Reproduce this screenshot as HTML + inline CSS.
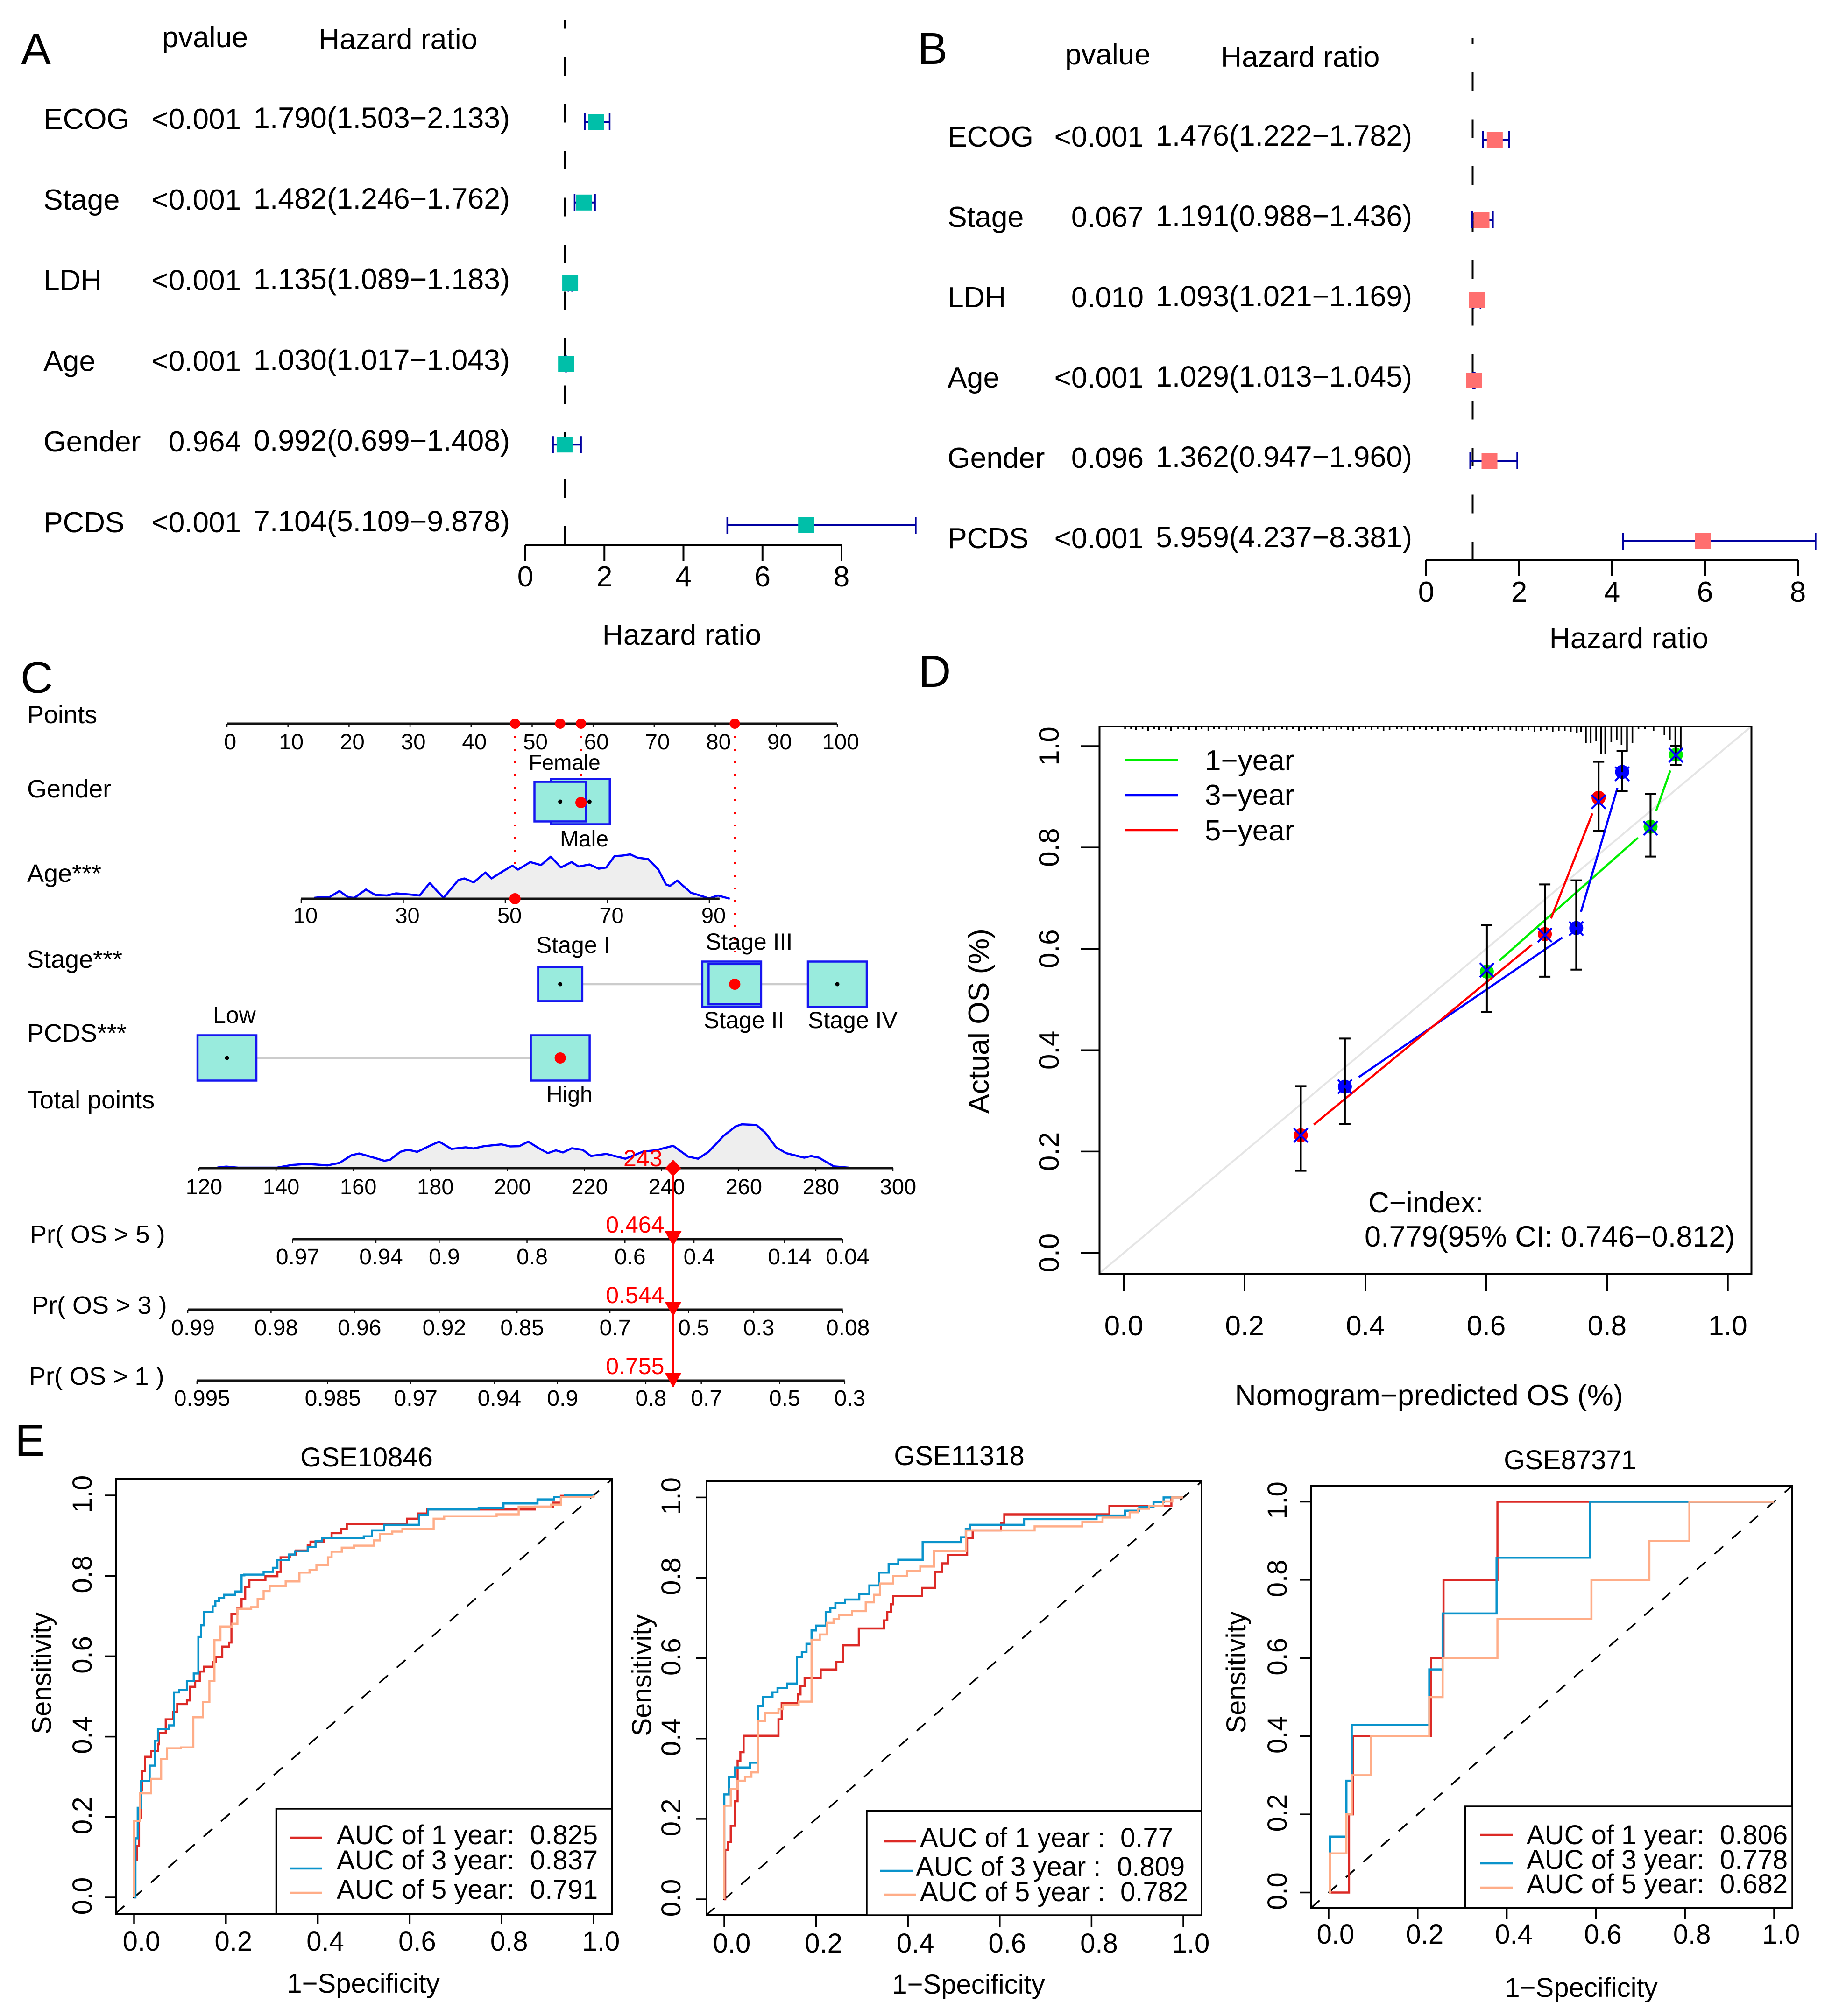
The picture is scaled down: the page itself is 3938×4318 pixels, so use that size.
<!DOCTYPE html>
<html lang="en"><head><meta charset="utf-8"><title>Prognostic model figure</title>
<style>html,body{margin:0;padding:0;background:#fff;width:3938px;height:4318px;overflow:hidden}svg{display:block}text{fill:#000}</style></head>
<body>
<svg id="fig" xmlns="http://www.w3.org/2000/svg" width="3938" height="4318" viewBox="0 0 3938 4318" font-family="'Liberation Sans',Arial,sans-serif">
<rect width="3938" height="4318" fill="#fff"/>

<g id="panelA" font-size="62">
<text x="45" y="138" font-size="96">A</text>
<text x="347" y="101" font-size="62.5">pvalue</text>
<text x="682" y="105" font-size="62.5">Hazard ratio</text>
<text x="1460" y="1381" text-anchor="middle" font-size="62.5">Hazard ratio</text>
</g>

<g id="panelB" font-size="62">
<text x="1965" y="137" font-size="96">B</text>
<text x="2281" y="138">pvalue</text>
<text x="2614" y="143" font-size="62.5">Hazard ratio</text>
<text x="3488" y="1388" text-anchor="middle" font-size="62.5">Hazard ratio</text>
</g>

<g id="panelC" font-size="54">
<text x="44" y="1484" font-size="96">C</text>
<text x="58" y="1549">Points</text>
<text x="58" y="1708">Gender</text>
<text x="58" y="1889">Age***</text>
<text x="58" y="2073">Stage***</text>
<text x="58" y="2231">PCDS***</text>
<text x="58" y="2374">Total points</text>
<text x="64" y="2662">Pr( OS &gt; 5 )</text>
<text x="68" y="2814">Pr( OS &gt; 3 )</text>
<text x="62" y="2966">Pr( OS &gt; 1 )</text>
</g>

<g id="panelD" font-size="62">
<text x="1967" y="1471" font-size="96">D</text>
<text x="3060" y="3010" text-anchor="middle" font-size="63">Nomogram−predicted OS (%)</text>
<text transform="translate(2117 2187) rotate(-90)" text-anchor="middle" font-size="62.5">Actual OS (%)</text>
<text x="2580" y="1650">1−year</text>
<text x="2580" y="1724">3−year</text>
<text x="2580" y="1800">5−year</text>
<line x1="2409" x2="2523" y1="1628" y2="1628" stroke="#00ee00" stroke-width="4.5"/>
<line x1="2409" x2="2523" y1="1703" y2="1703" stroke="#0000ff" stroke-width="4.5"/>
<line x1="2409" x2="2523" y1="1778" y2="1778" stroke="#ff0000" stroke-width="4.5"/>
<text x="2930" y="2597">C−index:</text>
<text x="2922" y="2670" font-size="63">0.779(95% CI: 0.746−0.812)</text>
</g>

<g id="panelE1" font-size="58">
<text x="32" y="3118" font-size="96">E</text>
<text x="785" y="3141" text-anchor="middle">GSE10846</text>
<text x="778" y="4268" text-anchor="middle">1−Specificity</text>
<text transform="translate(109 3584) rotate(-90)" text-anchor="middle">Sensitivity</text>
</g>
<g id="panelE2" font-size="58">
<text x="2054" y="3138" text-anchor="middle">GSE11318</text>
<text x="2074" y="4270" text-anchor="middle">1−Specificity</text>
<text transform="translate(1394 3588) rotate(-90)" text-anchor="middle">Sensitivity</text>
</g>
<g id="panelE3" font-size="58">
<text x="3362" y="3147" text-anchor="middle">GSE87371</text>
<text x="3386" y="4277" text-anchor="middle">1−Specificity</text>
<text transform="translate(2667 3582) rotate(-90)" text-anchor="middle">Sensitivity</text>
</g>

<g id="legendE1" font-size="58">
<rect x="591.5" y="3874" width="718.5" height="225.5" fill="#fff" stroke="#000" stroke-width="3.5"/>
<line x1="620" x2="689" y1="3936" y2="3936" stroke="#DC2A26" stroke-width="4.5"/>
<line x1="620" x2="689" y1="4002" y2="4002" stroke="#0A93CB" stroke-width="4.5"/>
<line x1="620" x2="689" y1="4054" y2="4054" stroke="#FFAD88" stroke-width="4.5"/>
<text x="721" y="3950">AUC of 1 year:<tspan x="1135">0.825</tspan></text>
<text x="721" y="4004">AUC of 3 year:<tspan x="1135">0.837</tspan></text>
<text x="721" y="4067">AUC of 5 year:<tspan x="1135">0.791</tspan></text>
</g>
<g id="legendE2" font-size="58">
<rect x="1856" y="3878.5" width="717" height="223.5" fill="#fff" stroke="#000" stroke-width="3.5"/>
<line x1="1893" x2="1961" y1="3944" y2="3944" stroke="#DC2A26" stroke-width="4.5"/>
<line x1="1884" x2="1955" y1="4007" y2="4007" stroke="#0A93CB" stroke-width="4.5"/>
<line x1="1893" x2="1961" y1="4058" y2="4058" stroke="#FFAD88" stroke-width="4.5"/>
<text x="1970" y="3956">AUC of 1 year :<tspan x="2399">0.77</tspan></text>
<text x="1961" y="4018">AUC of 3 year :<tspan x="2392">0.809</tspan></text>
<text x="1970" y="4072">AUC of 5 year :<tspan x="2399">0.782</tspan></text>
</g>
<g id="legendE3" font-size="58">
<rect x="3137.5" y="3869" width="700.5" height="217" fill="#fff" stroke="#000" stroke-width="3.5"/>
<line x1="3170" x2="3239" y1="3930" y2="3930" stroke="#DC2A26" stroke-width="4.5"/>
<line x1="3170" x2="3239" y1="3991" y2="3991" stroke="#0A93CB" stroke-width="4.5"/>
<line x1="3170" x2="3239" y1="4043" y2="4043" stroke="#FFAD88" stroke-width="4.5"/>
<text x="3269" y="3950">AUC of 1 year:<tspan x="3683">0.806</tspan></text>
<text x="3269" y="4003">AUC of 3 year:<tspan x="3683">0.778</tspan></text>
<text x="3269" y="4055">AUC of 5 year:<tspan x="3683">0.682</tspan></text>
</g>
</svg>

<script>
/* ---------- forest plots ---------- */
const forestVariables = ['ECOG','Stage','LDH','Age','Gender','PCDS'];
const forestTicks = [0,2,4,6,8];
const pvalA = ['<0.001','<0.001','<0.001','<0.001','0.964','<0.001'];
const hrA = [1.790,1.482,1.135,1.030,0.992,7.104];
const loA = [1.503,1.246,1.089,1.017,0.699,5.109];
const hiA = [2.133,1.762,1.183,1.043,1.408,9.878];
const pvalB = ['<0.001','0.067','0.010','<0.001','0.096','<0.001'];
const hrB = [1.476,1.191,1.093,1.029,1.362,5.959];
const loB = [1.222,0.988,1.021,1.013,0.947,4.237];
const hiB = [1.782,1.436,1.169,1.045,1.960,8.381];

/* ---------- nomogram ---------- */
const pointTicks = [0,10,20,30,40,50,60,70,80,90,100];
const selectedPoints = [47.2,54.6,58,83.2];
const ageTicks = [10,30,50,70,90];
const selectedAge = 51.9;
const ageGrid = [12.5,14,15.4,17.5,19.2,20.4,22.7,24.5,26.8,28.6,31.5,33.2,35.2,36.8,37.9,40.8,42,43.8,46.1,47.3,49.6,51.4,52.5,54.9,57,58.9,60.9,63,64.4,66.5,68.3,69.8,71.4,73,74.5,75.9,78,80,81.5,82.3,83.7,86.4,88.2,89.9,91.7,94];
const ageDensity = [3,6,4,26,5,3,31,13,11,18,14,11,53,23,3,63,68,55,88,68,93,111,98,123,113,141,105,123,108,115,101,105,143,145,149,138,133,98,48,43,61,20,11,1,11,0];
const genderPoints = [57.9,54.6];
const genderWeights = [1,0.875];
const genderDotPoints = [59.4,54.6];
const stagePoints = [54.6,82.7,83.2,100];
const stageWeights = [0.75,1,0.89,1];
const pcdsPoints = [0,54.6];
const pcdsWeights = [1,1];
const totalTicks = [120,140,160,180,200,220,240,260,280,300];
const totalGrid = [124.8,127.1,130.2,140.2,144.1,148,153.4,156.5,159.6,161.6,165,168.1,169.6,172.2,174.2,176.6,180,182.3,185.5,189.2,191.2,193.9,198.5,200.7,203.1,205.4,208.2,210.5,212.6,214.4,216.7,219.5,221.7,225.7,230.6,235.3,238.4,243,246.9,249.5,252.3,256.1,259.2,260.8,264.6,266.9,269.7,272.3,277,278.8,280.8,284.7,288.6];
const totalDensity = [1,5,0,0,13,18,11,23,60,68,50,33,38,76,86,76,106,125,90,98,92,103,112,102,103,125,93,70,83,73,93,86,56,66,43,78,83,105,53,43,78,153,198,208,205,168,98,70,48,56,48,6,0];
const totalScore = 243;
const pr5Labels = ['0.97','0.94','0.9','0.8','0.6','0.4','0.14','0.04'];
const pr5AtTotal = [144.3,165.9,182.3,205.1,230.5,248.4,271.9,286.9];
const pr5Value = '0.464';
const pr3Labels = ['0.99','0.98','0.96','0.92','0.85','0.7','0.5','0.3','0.08'];
const pr3AtTotal = [117.1,138.7,160.3,182.3,202.5,226.6,247,263.9,287];
const pr3Value = '0.544';
const pr1Labels = ['0.995','0.985','0.97','0.94','0.9','0.8','0.7','0.5','0.3'];
const pr1AtTotal = [119.5,153.4,174.9,196.6,213,235.9,250.3,270.6,287.5];
const pr1Value = '0.755';

/* ---------- calibration ---------- */
const calTicks = [0,0.2,0.4,0.6,0.8,1];
const pred1y = [0.601,0.872,0.914];
const obs1y = [0.555,0.841,0.983];
const low1y = [0.475,0.782,0.963];
const high1y = [0.647,0.906,1.0];
const pred3y = [0.366,0.749,0.825];
const obs3y = [0.328,0.641,0.949];
const low3y = [0.254,0.559,0.911];
const high3y = [0.423,0.735,0.990];
const pred5y = [0.293,0.697,0.786];
const obs5y = [0.232,0.629,0.898];
const low5y = [0.162,0.545,0.833];
const high5y = [0.329,0.727,0.969];
const corrected5y = [0.232,0.627,0.890];
const corrected3y = [0.328,0.640,0.945];
const corrected1y = [0.558,0.838,0.982];
const rugPred = [0.002,0.012,0.02,0.031,0.04,0.05,0.058,0.069,0.078,0.09,0.099,0.108,0.12,0.129,0.14,0.149,0.158,0.17,0.178,0.19,0.2,0.209,0.22,0.231,0.24,0.25,0.262,0.27,0.28,0.29,0.3,0.31,0.32,0.33,0.34,0.352,0.36,0.371,0.38,0.39,0.4,0.41,0.42,0.43,0.44,0.452,0.46,0.47,0.48,0.49,0.5,0.51,0.52,0.53,0.54,0.55,0.56,0.57,0.58,0.59,0.6,0.61,0.62,0.63,0.64,0.65,0.66,0.67,0.68,0.69,0.7,0.71,0.72,0.73,0.74,0.75,0.757,0.765,0.773,0.782,0.79,0.797,0.807,0.816,0.824,0.833,0.842,0.852,0.863,0.877,0.895,0.904,0.913,0.922];
const rugFreq = [6,5,8,6,10,5,7,6,9,5,6,8,7,5,10,6,5,8,6,7,9,5,6,10,7,6,5,8,6,9,7,6,5,10,6,8,5,7,9,6,5,8,6,10,7,5,6,9,8,5,7,6,10,8,6,7,9,6,8,10,7,6,9,8,7,10,9,8,11,10,8,12,10,9,12,14,11,36,35,31,59,58,33,30,39,53,35,6,6,9,19,30,50,60];

/* ---------- ROC curves ---------- */
const rocTicks = [0,0.2,0.4,0.6,0.8,1];
const a1Fpr = [0.002,0.006,0.011,0.015,0.018,0.024,0.037,0.052,0.054,0.069,0.085,0.094,0.115,0.122,0.133,0.143,0.152,0.172,0.178,0.192,0.207,0.212,0.225,0.234,0.242,0.251,0.286,0.312,0.319,0.339,0.352,0.378,0.384,0.413,0.430,0.451,0.463,0.594,0.619,0.638,0.872,0.912,0.929,1];
const a1Tpr = [0.094,0.128,0.199,0.266,0.314,0.350,0.364,0.381,0.409,0.443,0.462,0.481,0.490,0.524,0.538,0.562,0.574,0.586,0.598,0.624,0.634,0.705,0.719,0.743,0.772,0.789,0.799,0.810,0.846,0.853,0.863,0.877,0.885,0.894,0.906,0.917,0.929,0.942,0.955,0.965,0.972,0.982,0.999,1];
const a3Fpr = [0.003,0.008,0.015,0.034,0.045,0.052,0.076,0.087,0.098,0.115,0.130,0.140,0.146,0.152,0.171,0.177,0.185,0.196,0.220,0.234,0.240,0.282,0.302,0.312,0.337,0.350,0.378,0.395,0.409,0.500,0.518,0.544,0.620,0.640,0.750,0.804,0.878,0.914,0.938,1];
const a3Tpr = [0.147,0.223,0.290,0.328,0.390,0.419,0.428,0.510,0.516,0.538,0.557,0.648,0.677,0.710,0.724,0.737,0.745,0.753,0.761,0.801,0.803,0.810,0.820,0.839,0.853,0.861,0.872,0.886,0.894,0.898,0.913,0.927,0.951,0.965,0.969,0.980,0.990,0.996,1,1];
const a5Fpr = [0,0.013,0.037,0.059,0.072,0.102,0.129,0.129,0.150,0.164,0.175,0.188,0.214,0.225,0.255,0.269,0.282,0.295,0.330,0.360,0.382,0.397,0.422,0.430,0.452,0.479,0.522,0.535,0.562,0.584,0.652,0.675,0.789,0.837,0.907,0.929,1];
const a5Tpr = [0.190,0.259,0.295,0.344,0.371,0.373,0.385,0.448,0.486,0.538,0.640,0.674,0.681,0.718,0.722,0.743,0.762,0.775,0.786,0.808,0.815,0.827,0.846,0.860,0.870,0.875,0.888,0.904,0.910,0.917,0.942,0.948,0.953,0.972,0.977,0.996,1];

const b1Fpr = [0.002,0.008,0.014,0.023,0.029,0.035,0.042,0.118,0.125,0.160,0.166,0.175,0.210,0.244,0.259,0.293,0.348,0.355,0.363,0.368,0.431,0.459,0.474,0.487,0.529,0.541,0.603,0.610,0.839,0.974,1];
const b1Tpr = [0.123,0.142,0.183,0.244,0.345,0.366,0.407,0.448,0.489,0.510,0.531,0.551,0.572,0.591,0.632,0.674,0.694,0.715,0.734,0.755,0.775,0.815,0.836,0.857,0.899,0.918,0.937,0.958,0.979,1,1];
const b3Fpr = [0,0.010,0.023,0.056,0.073,0.084,0.105,0.116,0.137,0.158,0.169,0.179,0.190,0.200,0.221,0.231,0.242,0.263,0.294,0.316,0.337,0.358,0.379,0.432,0.516,0.526,0.535,0.653,0.811,0.873,0.904,0.935,0.957,1];
const b3Tpr = [0.261,0.304,0.328,0.340,0.481,0.504,0.515,0.526,0.537,0.603,0.615,0.636,0.669,0.681,0.715,0.725,0.737,0.746,0.759,0.781,0.813,0.835,0.845,0.889,0.901,0.922,0.932,0.946,0.955,0.967,0.977,0.989,1,1];
const b5Fpr = [0,0.014,0.029,0.045,0.059,0.073,0.089,0.118,0.128,0.162,0.190,0.208,0.223,0.238,0.250,0.278,0.308,0.326,0.339,0.368,0.398,0.427,0.457,0.527,0.676,0.780,0.824,0.883,0.901,0.925,0.956,0.976,1];
const b5Tpr = [0.233,0.274,0.295,0.305,0.316,0.443,0.464,0.473,0.484,0.492,0.646,0.659,0.688,0.698,0.708,0.717,0.739,0.758,0.786,0.805,0.817,0.828,0.867,0.918,0.928,0.939,0.950,0.963,0.972,0.979,0.990,1,1];

const c1Fpr = [0.046,0.055,0.23,0.258,0.379,1];
const c1Tpr = [0.2,0.4,0.6,0.8,1,1];
const c3Fpr = [0.003,0.04,0.052,0.226,0.256,0.377,0.587,1];
const c3Tpr = [0.143,0.286,0.429,0.571,0.714,0.857,1,1];
const c5Fpr = [0.003,0.04,0.052,0.095,0.226,0.256,0.379,0.59,0.72,0.81,1];
const c5Tpr = [0.1,0.2,0.3,0.4,0.5,0.6,0.7,0.8,0.9,1,1];

/* ---------- helpers ---------- */
const NS = 'http://www.w3.org/2000/svg';
const lin = (d0,r0,d1,r1) => v => r0 + (v-d0)*(r1-r0)/(d1-d0);
function add(parent, tag, name, attrs, text){
  const el = document.createElementNS(NS, tag);
  
  
  for (const k in attrs) el.setAttribute(k, attrs[k]);
  if (text !== undefined) el.textContent = text;
  parent.appendChild(el);
  return el;
}
const $ = id => document.getElementById(id);
function line(p,name,x1,y1,x2,y2,stroke,w,extra){
  return add(p,'line',name,Object.assign({x1,y1,x2,y2,stroke,'stroke-width':w},extra||{}));
}

/* ---------- forest ---------- */
function forest(g,suffix,pv,hr,lo,hi,c){
  const x = lin(0,c.x0,8,c.x8);
  const rowY = i => c.rowTop + i*c.rowStep;
  line(g,'reference-line-'+suffix,x(1),c.axisY,x(1),c.top,'#000',4,{'stroke-dasharray':'40 60.5'});
  line(g,'x-axis-line-'+suffix,x(0),c.axisY,x(8),c.axisY,'#000',4);
  forestTicks.forEach(t=>{
    line(g,'x-tick-'+suffix,x(t),c.axisY,x(t),c.tickEnd,'#000',4);
    add(g,'text','x-tick-label-'+suffix,{x:x(t),y:c.tickBase,'text-anchor':'middle'},String(t));
  });
  forestVariables.forEach((v,i)=>{
    const y = rowY(i);
    add(g,'text','variable-label-'+v.toLowerCase(),{x:c.nameX,y:y+15,'font-size':62.5},v);
    add(g,'text','pvalue-'+v.toLowerCase(),{x:c.pX,y:y+15,'text-anchor':'end'},pv[i]);
    add(g,'text','hazard-ratio-text-'+v.toLowerCase(),{x:c.hrX,y:y+13,'text-anchor':'end','font-size':62.7},hr[i].toFixed(3)+'('+lo[i].toFixed(3)+'−'+hi[i].toFixed(3)+')');
    line(g,'ci-line-'+v.toLowerCase(),x(lo[i]),y,x(hi[i]),y,'#0000A0',4);
    line(g,'ci-cap-low-'+v.toLowerCase(),x(lo[i]),y-18,x(lo[i]),y+18,'#0000A0',3.5);
    line(g,'ci-cap-high-'+v.toLowerCase(),x(hi[i]),y-18,x(hi[i]),y+18,'#0000A0',3.5);
    add(g,'rect','hazard-marker-'+v.toLowerCase(),{x:x(hr[i])-17,y:y-17,width:34,height:34,fill:c.color});
  });
}
forest($('panelA'),'a',pvalA,hrA,loA,hiA,{x0:1125,x8:1802,axisY:1167,tickEnd:1201,tickBase:1256,top:43,rowTop:261,rowStep:172.8,nameX:93,pX:516,hrX:1092,color:'#00BFA9'});
forest($('panelB'),'b',pvalB,hrB,loB,hiB,{x0:3054,x8:3850,axisY:1200,tickEnd:1234,tickBase:1289,top:82,rowTop:299,rowStep:172,nameX:2029,pX:2449,hrX:3024,color:'#FF6F6F'});

/* ---------- nomogram ---------- */
const gC = $('panelC');
const xPts = lin(0,486,100,1793);
const xAge = lin(10,645,90,1519);
const xTot = lin(120,426,300,1912);
const AX = '#111';
function hAxis(name,x1,x2,y,tickEnd,base,ticks,labels,xf,off,size){
  line(gC,name+'-line',x1,y,x2,y,AX,5);
  ticks.forEach((t,i)=>{
    line(gC,name+'-tick',xf(t),y,xf(t),tickEnd,AX,2.5);
    add(gC,'text',name+'-tick-label',{x:xf(t)+off,y:base,'text-anchor':'middle','font-size':size},labels[i]);
  });
}
function density(name,grid,dens,xf,base,unit){
  const pts = grid.map((g,i)=>xf(g).toFixed(1)+','+(base-dens[i]*unit).toFixed(1));
  add(gC,'polygon',name+'-area',{points:xf(grid[0]).toFixed(1)+','+base+' '+pts.join(' ')+' '+xf(grid[grid.length-1]).toFixed(1)+','+base,fill:'#EEEEEE'});
  add(gC,'polyline',name+'-curve',{points:pts.join(' '),fill:'none',stroke:'#0000FF','stroke-width':4.5,'stroke-linejoin':'round'});
}
line(gC,'guide-age',xPts(selectedPoints[0]),1550,xPts(selectedPoints[0]),1925,'#FF0000',4,{'stroke-dasharray':'4 23'});
line(gC,'guide-gender',xPts(selectedPoints[2]),1550,xPts(selectedPoints[2]),1719,'#FF0000',4,{'stroke-dasharray':'4 23'});
line(gC,'guide-stage',xPts(selectedPoints[3]),1550,xPts(selectedPoints[3]),2132,'#FF0000',4,{'stroke-dasharray':'4 23'});

hAxis('points-axis',xPts(0),xPts(100),1550,1558,1605,pointTicks,pointTicks.map(String),xPts,7,47.5);
selectedPoints.forEach(p=>add(gC,'circle','points-selected-dot',{cx:xPts(p),cy:1550,r:11,fill:'#FF0000'}));

const BOX_W = 126, BOX_H = 97;
function catBox(name,center,weight,y){
  const w = BOX_W*weight, h = BOX_H*weight;
  add(gC,'rect',name,{x:xPts(center)-w/2,y:y-h/2,width:w,height:h,fill:'#99EBDD',stroke:'#1616F0','stroke-width':4.5});
}
function dot(name,p,y,color,r){ add(gC,'circle',name,{cx:xPts(p),cy:y,r,fill:color}); }

/* gender */
catBox('gender-box-male',genderPoints[0],genderWeights[0],1717);
catBox('gender-box-female',genderPoints[1],genderWeights[1],1717);
genderDotPoints.forEach(p=>dot('gender-level-dot',p,1717,'#000',4.5));
dot('gender-selected-dot',selectedPoints[2],1719,'#FF0000',12);
add(gC,'text','gender-label-female',{x:1209,y:1649,'text-anchor':'middle','font-size':46},'Female');
add(gC,'text','gender-label-male',{x:1251,y:1813,'text-anchor':'middle','font-size':48},'Male');

/* age */
density('age-density',ageGrid,ageDensity,xAge,1925,0.638);
hAxis('age-axis',xAge(10),xAge(92),1925,1935,1977,ageTicks,ageTicks.map(String),xAge,9,47);
add(gC,'circle','age-selected-dot',{cx:xAge(selectedAge),cy:1925,r:12,fill:'#FF0000'});

/* stage */
line(gC,'stage-connector',xPts(stagePoints[0]),2108,xPts(stagePoints[3]),2108,'#CCCCCC',4.5);
stagePoints.forEach((p,i)=>catBox('stage-box',p,stageWeights[i],2108));
dot('stage-level-dot',stagePoints[0],2108,'#000',4.5);
dot('stage-level-dot',stagePoints[3],2108,'#000',4.5);
dot('stage-selected-dot',selectedPoints[3],2108,'#FF0000',12);
add(gC,'text','stage-label-i',{x:1148,y:2041,'font-size':50},'Stage I');
add(gC,'text','stage-label-iii',{x:1511,y:2034,'font-size':50},'Stage III');
add(gC,'text','stage-label-ii',{x:1507,y:2202,'font-size':50},'Stage II');
add(gC,'text','stage-label-iv',{x:1730,y:2202,'font-size':50},'Stage IV');

/* pcds */
line(gC,'pcds-connector',xPts(pcdsPoints[0]),2266,xPts(pcdsPoints[1]),2266,'#CCCCCC',4.5);
pcdsPoints.forEach((p,i)=>catBox('pcds-box',p,pcdsWeights[i],2266));
dot('pcds-level-dot',pcdsPoints[0],2266,'#000',4.5);
dot('pcds-selected-dot',selectedPoints[1],2266,'#FF0000',12);
add(gC,'text','pcds-label-low',{x:456,y:2191,'font-size':50},'Low');
add(gC,'text','pcds-label-high',{x:1170,y:2360,'font-size':48},'High');

/* total points */
density('total-density',totalGrid,totalDensity,xTot,2501,0.4464);
hAxis('total-points-axis',xTot(120),xTot(300),2502,2508,2558,totalTicks,totalTicks.map(String),xTot,11,47);

/* probability axes */
hAxis('pr-os-5-axis',xTot(pr5AtTotal[0]),xTot(pr5AtTotal[pr5AtTotal.length-1]),2654,2662,2708,pr5AtTotal,pr5Labels,xTot,11,48);
hAxis('pr-os-3-axis',xTot(pr3AtTotal[0]),xTot(pr3AtTotal[pr3AtTotal.length-1]),2805,2813,2860,pr3AtTotal,pr3Labels,xTot,11,48);
hAxis('pr-os-1-axis',xTot(pr1AtTotal[0]),xTot(pr1AtTotal[pr1AtTotal.length-1]),2957,2965,3011,pr1AtTotal,pr1Labels,xTot,11,48);

const sx = xTot(totalScore);
line(gC,'score-drop-line',sx,2502,sx,2971,'#FF0000',3.5);
add(gC,'polygon','total-score-diamond',{points:[sx,2484,sx+17,2502,sx,2520,sx-17,2502].join(' '),fill:'#FF0000'});
add(gC,'text','total-score-value',{x:sx-23,y:2498,'text-anchor':'end','font-size':50,style:'fill:#FF0000'},String(totalScore));
[[pr5Value,2637,'5'],[pr3Value,2788,'3'],[pr1Value,2940,'1']].forEach(r=>{
  add(gC,'polygon','pr-os-'+r[2]+'-arrow',{points:[sx-18,r[1],sx+18,r[1],sx,r[1]+32].join(' '),fill:'#FF0000'});
  add(gC,'text','pr-os-'+r[2]+'-value',{x:sx-19,y:r[1]+3,'text-anchor':'end','font-size':50,style:'fill:#FF0000'},r[0]);
});

/* ---------- calibration ---------- */
const gD = $('panelD');
const xC = lin(0,2406.5,1,3700);
const yC = lin(0,2683.5,1,1598);
const clipD = add(gD,'clipPath','plot-clip-d',{id:'clipD'});
add(clipD,'rect','plot-clip-rect-d',{x:2354.5,y:1556,width:1396,height:1173});
line(gD,'identity-line',xC(-0.04),yC(-0.04),xC(1.04),yC(1.04),'#E5E5E5',4,{'clip-path':'url(#clipD)'});
add(gD,'rect','plot-frame-d',{x:2354.5,y:1556,width:1396,height:1173,fill:'none',stroke:'#000','stroke-width':4});
calTicks.forEach(t=>{
  line(gD,'x-tick-d',xC(t),2729,xC(t),2765,'#000',3.5);
  add(gD,'text','x-tick-label-d',{x:xC(t),y:2860,'text-anchor':'middle','font-size':60},t.toFixed(1));
  line(gD,'y-tick-d',2354,yC(t),2315,yC(t),'#000',3.5);
  add(gD,'text','y-tick-label-d',{transform:'translate(2267 '+yC(t)+') rotate(-90)','text-anchor':'middle','font-size':60},t.toFixed(1));
});
rugPred.forEach((p,i)=>line(gD,'rug-tick',xC(p),1556,xC(p),1556+(rugFreq[i]||6),'#000',3.5));
function gapped(pred,obs,color,name){
  const GAP = 36;
  for(let i=0;i<pred.length-1;i++){
    const ax=xC(pred[i]),ay=yC(obs[i]),bx=xC(pred[i+1]),by=yC(obs[i+1]);
    const L=Math.hypot(bx-ax,by-ay),ux=(bx-ax)/L,uy=(by-ay)/L;
    line(gD,name+'-segment',ax+ux*GAP,ay+uy*GAP,bx-ux*GAP,by-uy*GAP,color,4.5);
  }
}
gapped(pred1y,obs1y,'#00EE00','calibration-1-year');
gapped(pred3y,obs3y,'#0000FF','calibration-3-year');
gapped(pred5y,obs5y,'#FF0000','calibration-5-year');
function calMarks(pred,obs,low,high,corr,color,name){
  pred.forEach((p,i)=>{
    add(gD,'circle',name+'-point',{cx:xC(p),cy:yC(obs[i]),r:15,fill:color});
    line(gD,name+'-error-bar',xC(p),yC(low[i]),xC(p),yC(high[i]),'#000',4);
    line(gD,name+'-error-cap-low',xC(p)-12,yC(low[i]),xC(p)+12,yC(low[i]),'#000',4);
    line(gD,name+'-error-cap-high',xC(p)-12,yC(high[i]),xC(p)+12,yC(high[i]),'#000',4);
    const cx=xC(p),cy=yC(corr[i]),s=15;
    line(gD,name+'-corrected-mark',cx-s,cy-s,cx+s,cy+s,'#0000FF',4);
    line(gD,name+'-corrected-mark',cx-s,cy+s,cx+s,cy-s,'#0000FF',4);
  });
}
calMarks(pred1y,obs1y,low1y,high1y,corrected1y,'#00EE00','calibration-1-year');
calMarks(pred3y,obs3y,low3y,high3y,corrected3y,'#0000FF','calibration-3-year');
calMarks(pred5y,obs5y,low5y,high5y,corrected5y,'#FF0000','calibration-5-year');

/* ---------- ROC ---------- */
function stepPath(xs,ys,fx,fy){
  let d='M'+fx(0).toFixed(1)+' '+fy(0).toFixed(1);
  xs.forEach((v,i)=>{ d+='H'+fx(v).toFixed(1)+'V'+fy(ys[i]).toFixed(1); });
  return d;
}
function roc(g,legend,suf,c,curves){
  const fx=lin(0,c.x0,1,c.x1), fy=lin(0,c.y0,1,c.y1);
  const clip=add(g,'clipPath','plot-clip-'+suf,{id:'clip'+suf});
  add(clip,'rect','plot-clip-rect-'+suf,{x:c.l,y:c.t,width:c.r-c.l,height:c.b-c.t});
  line(g,'diagonal-reference-'+suf,fx(-0.04),fy(-0.04),fx(1.04),fy(1.04),'#000',3.5,{'stroke-dasharray':'25 25','clip-path':'url(#clip'+suf+')'});
  curves.forEach(r=>add(g,'path',r[3]+'-'+suf,{d:stepPath(r[0],r[1],fx,fy),fill:'none',stroke:r[2],'stroke-width':4.5,'stroke-linejoin':'miter'}));
  add(g,'rect','plot-frame-'+suf,{x:c.l,y:c.t,width:c.r-c.l,height:c.b-c.t,fill:'none',stroke:'#000','stroke-width':4});
  rocTicks.forEach(t=>{
    line(g,'x-tick-'+suf,fx(t),c.b,fx(t),c.xTickEnd,'#000',3.5);
    add(g,'text','x-tick-label-'+suf,{x:fx(t)+c.xOff,y:c.xBase,'text-anchor':'middle'},t.toFixed(1));
    line(g,'y-tick-'+suf,c.l,fy(t),c.yTickEnd,fy(t),'#000',3.5);
    add(g,'text','y-tick-label-'+suf,{transform:'translate('+c.yBase+' '+(fy(t)-3)+') rotate(-90)','text-anchor':'middle'},t.toFixed(1));
  });
  g.parentNode.appendChild(legend);
}
const RED='#DC2A26',BLUE='#0A93CB',PEACH='#FFAD88';
roc($('panelE1'),$('legendE1'),'gse10846',{x0:287,x1:1271,y0:4064,y1:3203,l:249,r:1310,t:3168,b:4099.5,xTickEnd:4122,xBase:4178,xOff:16,yTickEnd:225,yBase:196},
  [[a1Fpr,a1Tpr,RED,'roc-1-year'],[a3Fpr,a3Tpr,BLUE,'roc-3-year'],[a5Fpr,a5Tpr,PEACH,'roc-5-year']]);
roc($('panelE2'),$('legendE2'),'gse11318',{x0:1551,x1:2534,y0:4068,y1:3207.4,l:1513,r:2573,t:3172,b:4102,xTickEnd:4127,xBase:4182,xOff:16,yTickEnd:1491,yBase:1457},
  [[b1Fpr,b1Tpr,RED,'roc-1-year'],[b3Fpr,b3Tpr,BLUE,'roc-3-year'],[b5Fpr,b5Tpr,PEACH,'roc-5-year']]);
roc($('panelE3'),$('legendE3'),'gse87371',{x0:2845,x1:3799,y0:4053.5,y1:3216.5,l:2807,r:3838,t:3183,b:4086,xTickEnd:4110,xBase:4163,xOff:15,yTickEnd:2784,yBase:2755},
  [[c1Fpr,c1Tpr,RED,'roc-1-year'],[c3Fpr,c3Tpr,BLUE,'roc-3-year'],[c5Fpr,c5Tpr,PEACH,'roc-5-year']]);
</script>
</body></html>
